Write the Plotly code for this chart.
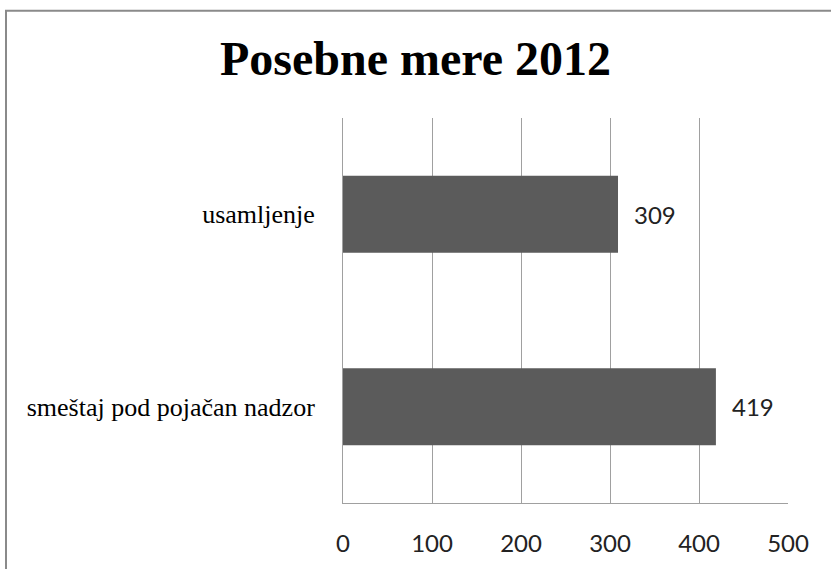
import plotly.graph_objects as go

categories = ["smeštaj pod pojačan nadzor", "usamljenje"]
values = [419, 309]
tick_vals = [0, 100, 200, 300, 400, 500]
title_text = "Posebne mere 2012"

W, H = 831, 569
ML, MR, MT, MB = 343, 43, 118, 63
PW = W - ML - MR
PH = H - MT - MB

fig = go.Figure()
fig.add_trace(go.Bar(
    x=values, y=categories, orientation="h",
    marker=dict(color="#5b5b5b", line=dict(width=0)),
    hoverinfo="x+y",
))

for v, c in zip(values, categories):
    fig.add_annotation(x=v, y=c, xref="x", yref="y", text=str(v),
                       showarrow=False, xanchor="left", yanchor="middle",
                       xshift=14, font=dict(family="Lato", size=24, color="#222222"))

# outer chart border (extends past right/bottom edges)
fig.add_shape(type="rect", xref="paper", yref="paper",
              x0=(6 - ML) / PW, x1=(W + 20 - ML) / PW,
              y0=-(H + 20 - MT - PH) / PH, y1=(MT + PH - 10) / PH,
              line=dict(color="#8a8a8a", width=2), fillcolor="rgba(0,0,0,0)", layer="below")

fig.update_layout(
    width=W, height=H,
    margin=dict(l=ML, r=MR, t=MT, b=MB, pad=0),
    paper_bgcolor="white", plot_bgcolor="white",
    bargap=0.6,
    showlegend=False,
    title=dict(text="<b>" + title_text + "</b>", x=0.5, xref="container", xanchor="center",
               y=1 - 58 / H, yref="container", yanchor="middle",
               font=dict(family="Liberation Serif", size=48, color="black")),
    xaxis=dict(range=[0, 500], tickvals=tick_vals, ticktext=[str(t) for t in tick_vals],
               showgrid=True, gridcolor="#a0a0a0", gridwidth=1,
               showline=True, linecolor="#a0a0a0", linewidth=1,
               zeroline=False, ticks="", ticklabelstandoff=19,
               tickfont=dict(family="Lato", size=24, color="#222222"), fixedrange=True),
    yaxis=dict(showgrid=False, showline=True, linecolor="#a0a0a0", linewidth=1,
               zeroline=False, ticks="", ticklabelstandoff=22,
               tickfont=dict(family="Liberation Serif", size=26, color="black"), fixedrange=True),
)

fig.write_html("out.html", config={"displayModeBar": False},
               post_script="document.body.style.margin='0';document.body.style.overflow='hidden';")
